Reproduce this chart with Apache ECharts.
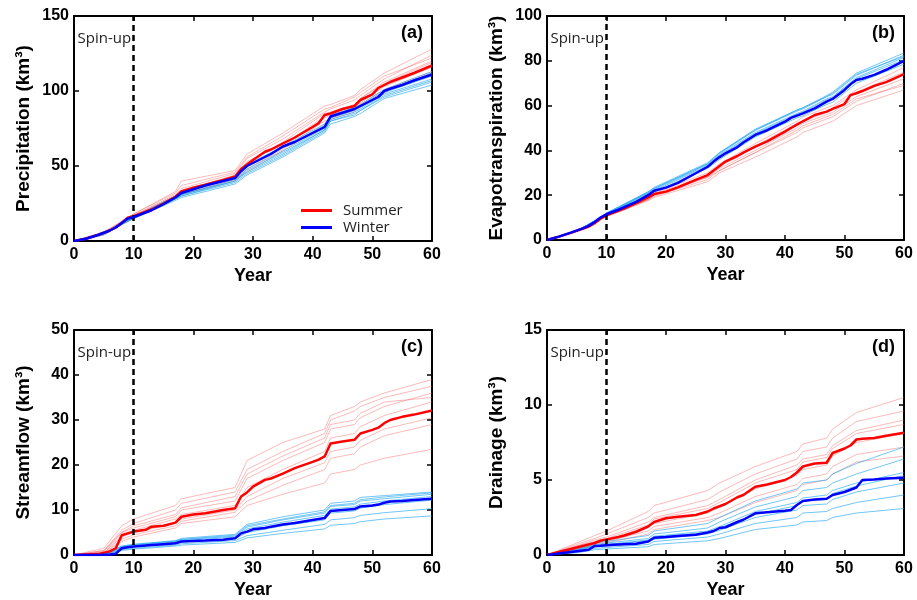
<!DOCTYPE html>
<html>
<head>
<meta charset="utf-8">
<script src="https://cdn.jsdelivr.net/npm/echarts@6/dist/echarts.min.js"></script>
<style>
  html, body { margin: 0; padding: 0; background: #fff; }
  #chart { width: 917px; height: 600px; }
</style>
</head>
<body>
<div id="chart"></div>
<script>
// ---- Data ----
const xTicks = [0, 10, 20, 30, 40, 50, 60];

// years used by the ensemble member lines
const memberYears = [0, 5, 8, 10, 17, 18, 27, 29, 35, 42, 43, 47, 48, 52, 60];
// years used by the ensemble mean lines
const meanYears = [0, 2, 4, 6, 7, 8, 9, 10, 12, 13, 15, 17, 18, 20, 22, 25, 27, 28, 29, 30, 32, 33, 35, 37, 40, 41, 42, 43, 45, 47, 48, 50, 51, 52, 53, 55, 57, 60];

// (a) Precipitation
const precipSummerMean = [0, 1.5, 4, 7, 9, 12, 15.5, 16.5, 19.5, 21, 25, 29.5, 33, 35.5, 37.5, 40.7, 43, 48, 51, 54, 59.5, 61, 65, 69, 76, 78.5, 84, 85, 88, 90, 94, 97.8, 102, 104, 106, 109, 112, 117];
const precipWinterMean = [0, 1.5, 4, 7, 9, 12, 15, 16, 19, 20.5, 24.5, 29, 32, 34.5, 37, 40, 42, 46.5, 50, 52, 56, 58, 63, 66, 72, 74, 76, 83, 85.5, 88, 90, 94, 96, 100, 101.5, 104, 107, 111];
const precipSummerMembers = [
    [0, 5, 13, 18, 33, 40, 47, 58, 72, 90, 91, 97, 101, 112, 128],
    [0, 6, 13, 17, 31, 35, 45, 55, 68, 86, 88, 94, 97, 108, 124],
    [0, 5, 12, 16, 30, 33, 44, 52, 66, 85, 86, 91, 95, 106, 120],
    [0, 5, 11, 15, 29, 32, 42, 50, 63, 82, 84, 88, 92, 103, 116],
    [0, 4, 11, 15, 28, 31, 40, 48, 61, 80, 81, 86, 90, 100, 112],
    [0, 5, 12, 17, 30, 34, 43, 53, 64, 83, 85, 90, 95, 105, 119],
    [0, 5, 12, 16, 29, 31, 41, 46, 60, 78, 82, 87, 91, 101, 113],
    [0, 6, 13, 18, 32, 37, 46, 56, 70, 88, 89, 96, 99, 110, 122]
];
const precipWinterMembers = [
    [0, 5, 12, 16, 29, 31, 41, 48, 60, 75, 82, 87, 89, 99, 110],
    [0, 5, 12, 15, 28, 30, 39, 45, 57, 73, 80, 85, 87, 97, 107],
    [0, 5, 11, 15, 27, 29, 38, 44, 56, 72, 78, 83, 85, 95, 104],
    [0, 5, 12, 16, 30, 32, 42, 50, 62, 77, 83, 88, 90, 100, 112],
    [0, 5, 12, 16, 29, 31, 40, 47, 59, 74, 81, 86, 88, 98, 108],
    [0, 4, 11, 15, 28, 30, 40, 46, 58, 74, 80, 84, 87, 96, 106],
    [0, 5, 12, 16, 30, 33, 43, 51, 63, 78, 84, 89, 91, 101, 113]
];

// (b) Evapotranspiration
const etSummerMean = [0, 1.5, 3.2, 5, 6, 7.5, 9.5, 11, 13, 14, 16.5, 19, 20.5, 21.6, 23.5, 26.8, 29, 31, 33, 35, 37.5, 39, 41.7, 44, 48.4, 50, 51.5, 53, 55.8, 57.3, 58.5, 60.7, 64.7, 65.5, 66.5, 68.8, 70.5, 74.1];
const etWinterMean = [0, 1.5, 3.3, 5.2, 6.3, 8, 10, 11.5, 13.5, 14.7, 17, 20, 22, 23.4, 25.5, 29.8, 32.7, 35, 37, 38.7, 41.5, 43.5, 46.9, 49, 52.8, 54.5, 55.5, 56.5, 58.8, 61.8, 63, 67, 69.5, 71.4, 72, 73.7, 76, 80];
const etSummerMembers = [
    [0, 4, 8, 11, 19, 21, 30, 34, 43, 53, 55, 59, 60, 67, 77],
    [0, 4, 8, 11, 18, 20, 28, 32, 40, 50, 52, 56, 57, 64, 72],
    [0, 4, 8, 11, 18, 19.5, 27, 31, 39, 48, 50, 54, 55, 62, 70],
    [0, 4, 8, 10.5, 17.5, 19, 26, 30, 37, 46, 48, 52, 53, 60, 67],
    [0, 4, 8, 11, 19, 20.5, 29, 33, 42, 52, 53, 57, 59, 66, 75],
    [0, 4, 8, 11, 18, 20, 28, 31, 39, 49, 51, 55, 56, 63, 69]
];
const etWinterMembers = [
    [0, 4, 8.5, 12, 21.5, 23.5, 34.5, 39, 49.5, 58, 59, 64.5, 66, 74.5, 83.5],
    [0, 4, 8.5, 12, 21, 23, 34, 38.5, 49, 57.5, 58.5, 64, 65, 73.5, 82.5],
    [0, 4, 8.5, 11.5, 21, 22.5, 33.5, 38, 48, 56.5, 57.5, 63, 64, 72.5, 81.5],
    [0, 4, 8.5, 11.5, 20.5, 22, 33, 37.5, 47.5, 56, 57, 62.5, 63.5, 72, 80.5],
    [0, 4, 8.5, 11.5, 20, 21.5, 32, 36, 46, 54.5, 55.5, 60.5, 61.5, 70, 78.5],
    [0, 4, 8.5, 12, 21.5, 23, 34, 39, 49, 58, 59, 64, 65.5, 74, 82]
];

// (c) Streamflow
const flowSummerMean = [0, 0.1, 0.2, 0.8, 1.5, 4.4, 4.8, 5.2, 5.6, 6.3, 6.5, 7.2, 8.5, 9, 9.3, 10, 10.4, 13, 13.9, 15.2, 16.7, 17, 18.1, 19.3, 20.7, 21.2, 21.9, 24.8, 25.2, 25.6, 27, 27.8, 28.3, 29.3, 30, 30.7, 31.2, 32.1];
const flowWinterMean = [0, 0, 0, 0.1, 0.3, 1.5, 1.7, 1.9, 2.1, 2.2, 2.4, 2.6, 3, 3.1, 3.2, 3.4, 3.7, 4.8, 5.2, 5.7, 6, 6.3, 6.8, 7.1, 7.8, 8, 8.2, 9.8, 10, 10.2, 10.8, 11, 11.2, 11.6, 11.9, 12, 12.2, 12.5];
const flowSummerMembers = [
    [0, 1.5, 6.5, 8, 11, 12.5, 15, 21, 25, 28, 31, 33, 34, 36, 39],
    [0, 1, 5.5, 7, 10, 11.5, 14, 19, 23, 27, 30, 32, 33, 35, 37.5],
    [0, 0.8, 5, 6, 8.5, 10, 12, 17, 21, 25, 28, 29, 30.5, 33, 36],
    [0, 0.5, 4.5, 5.5, 8, 9, 11, 15, 19, 23, 26, 27, 28.5, 31, 34],
    [0, 0.5, 4, 5, 7, 8, 10, 13, 17, 20.5, 23, 24, 25.5, 28, 30.5],
    [0, 0.3, 3.5, 4.5, 6.5, 7.5, 9.5, 12, 15.5, 19, 21.5, 22.5, 24, 26.5, 29],
    [0, 0.3, 3, 4, 6, 7, 8.5, 11, 13.5, 16, 18, 19, 20, 21.5, 23.5],
    [0, 1, 5, 6.5, 9, 10.5, 13, 18, 22, 26, 29, 30, 31.5, 34, 35]
];
const flowWinterMembers = [
    [0, 0.2, 2, 2.4, 3.2, 3.7, 4.6, 6.8, 8.5, 10, 11.5, 12, 12.8, 13.2, 14],
    [0, 0.1, 1.8, 2.2, 3, 3.4, 4.2, 6.2, 7.8, 9.3, 10.8, 11.2, 12, 12.5, 13.5],
    [0, 0.1, 1.6, 2, 2.8, 3.2, 4, 5.8, 7.3, 8.8, 10.2, 10.7, 11.3, 12, 13],
    [0, 0.1, 1.4, 1.8, 2.5, 2.9, 3.6, 5, 6.5, 7.8, 9.3, 9.8, 10.4, 11.2, 12.2],
    [0, 0.1, 1.2, 1.5, 2.2, 2.5, 3.2, 4.3, 5.5, 6.8, 7.8, 8.3, 8.8, 9.4, 10.3],
    [0, 0, 1, 1.3, 2, 2.2, 2.8, 3.8, 4.8, 5.8, 6.6, 7, 7.4, 8, 8.7],
    [0, 0.2, 1.9, 2.3, 3.1, 3.5, 4.4, 6.5, 8, 9.6, 11, 11.5, 12.3, 12.9, 13.8]
];

// (d) Drainage
const drainSummerMean = [0, 0.2, 0.4, 0.6, 0.7, 0.8, 0.95, 1.04, 1.2, 1.3, 1.55, 1.9, 2.2, 2.45, 2.55, 2.67, 2.9, 3.1, 3.25, 3.4, 3.85, 4, 4.55, 4.7, 5, 5.2, 5.5, 5.9, 6.1, 6.15, 6.8, 7.1, 7.3, 7.7, 7.75, 7.8, 7.95, 8.15];
const drainWinterMean = [0, 0.1, 0.2, 0.3, 0.35, 0.6, 0.62, 0.65, 0.7, 0.72, 0.75, 0.9, 1.15, 1.2, 1.27, 1.35, 1.5, 1.6, 1.8, 1.85, 2.2, 2.35, 2.78, 2.85, 2.95, 3, 3.33, 3.6, 3.7, 3.75, 4, 4.2, 4.35, 4.5, 5, 5.04, 5.1, 5.15];
const drainSummerMembers = [
    [0, 0.8, 1.3, 1.6, 2.9, 3.3, 4.3, 4.8, 5.9, 6.9, 7.4, 7.8, 8.4, 9.5, 10.5],
    [0, 0.7, 1.1, 1.4, 2.5, 2.8, 3.7, 4.2, 5.4, 6.4, 6.9, 7.2, 7.8, 8.9, 9.6],
    [0, 0.6, 1, 1.2, 2.2, 2.5, 3.3, 3.7, 5, 6, 6.4, 6.7, 7.3, 8.3, 9],
    [0, 0.5, 0.8, 1, 1.9, 2.1, 2.8, 3.2, 4.4, 5.3, 5.7, 6, 6.6, 7.5, 8.1],
    [0, 0.4, 0.7, 0.9, 1.6, 1.9, 2.5, 2.8, 3.9, 4.7, 5.1, 5.4, 5.9, 6.7, 7.2],
    [0, 0.4, 0.6, 0.8, 1.4, 1.7, 2.3, 2.5, 3.5, 4.3, 4.7, 5, 5.4, 6.2, 6.6],
    [0, 0.6, 0.9, 1.1, 2, 2.4, 3.1, 3.5, 4.8, 5.7, 6.2, 6.5, 7.1, 8.1, 8.7]
];
const drainWinterMembers = [
    [0, 0.4, 0.8, 0.9, 1.3, 1.6, 2.1, 2.5, 3.6, 4.4, 4.8, 5, 5.4, 6.1, 7.2],
    [0, 0.35, 0.7, 0.8, 1.1, 1.4, 1.8, 2.2, 3.2, 3.9, 4.3, 4.5, 4.8, 5.4, 6.4],
    [0, 0.3, 0.65, 0.7, 1, 1.25, 1.6, 1.9, 2.9, 3.5, 3.8, 4, 4.3, 4.8, 5.5],
    [0, 0.25, 0.55, 0.6, 0.85, 1.05, 1.4, 1.65, 2.5, 3, 3.3, 3.4, 3.7, 4.2, 4.8],
    [0, 0.2, 0.45, 0.5, 0.7, 0.9, 1.2, 1.4, 2.1, 2.5, 2.8, 2.9, 3.1, 3.5, 4],
    [0, 0.15, 0.35, 0.4, 0.55, 0.7, 0.95, 1.1, 1.7, 2, 2.2, 2.3, 2.5, 2.8, 3.1],
    [0, 0.3, 0.6, 0.7, 0.95, 1.2, 1.5, 1.8, 2.7, 3.3, 3.6, 3.7, 4.1, 4.6, 5.3]
];

// ---- Panel layout ----
const PANELS = [
    { tag: "(a)", name: "Precipitation (km³)", max: 150, step: 50, spinY: 134.7,
      grid: { left: 74, top: 16, width: 358, height: 225 },
      sMean: precipSummerMean, wMean: precipWinterMean, sMem: precipSummerMembers, wMem: precipWinterMembers },
    { tag: "(b)", name: "Evapotranspiration (km³)", max: 100, step: 20, spinY: 89.7,
      grid: { left: 547, top: 16, width: 357, height: 224 },
      sMean: etSummerMean, wMean: etWinterMean, sMem: etSummerMembers, wMem: etWinterMembers },
    { tag: "(c)", name: "Streamflow (km³)", max: 50, step: 10, spinY: 44.9,
      grid: { left: 74, top: 330, width: 358, height: 225 },
      sMean: flowSummerMean, wMean: flowWinterMean, sMem: flowSummerMembers, wMem: flowWinterMembers },
    { tag: "(d)", name: "Drainage (km³)", max: 15, step: 5, spinY: 13.47,
      grid: { left: 547, top: 330, width: 357, height: 225 },
      sMean: drainSummerMean, wMean: drainWinterMean, sMem: drainSummerMembers, wMem: drainWinterMembers }
];

const FONT = "'Liberation Sans', Arial, sans-serif";
const FONT_LIGHT = "'Open Sans', 'Noto Sans', sans-serif";
const RED = "#ff0000", BLUE = "#0000ff";
const RED_THIN = "rgba(245, 90, 90, 0.42)";
const BLUE_THIN = "rgba(20, 160, 240, 0.6)";

function pairs(xs, ys) { return xs.map((x, i) => [x, ys[i]]); }

const tickStyle = { show: true, inside: true, length: 5, lineStyle: { color: "#000", width: 1.5 } };
const lineStyleBox = { show: true, onZero: false, lineStyle: { color: "#000", width: 2 } };

const grids = [], xAxes = [], yAxes = [], series = [], graphics = [];

PANELS.forEach((p, k) => {
    grids.push(p.grid);

    // bottom + top x axes
    xAxes.push({
        type: "value", gridIndex: k, min: 0, max: 60, interval: 10, position: "bottom",
        name: "Year", nameLocation: "middle", nameGap: 26,
        nameTextStyle: { fontFamily: FONT, fontWeight: "bold", fontSize: 18, color: "#000" },
        axisLine: lineStyleBox, axisTick: tickStyle, splitLine: { show: false },
        axisLabel: { fontFamily: FONT, fontWeight: "bold", fontSize: 16, color: "#000", margin: 6 }
    });
    xAxes.push({
        type: "value", gridIndex: k, min: 0, max: 60, interval: 10, position: "top",
        axisLine: lineStyleBox, axisTick: tickStyle, splitLine: { show: false }, axisLabel: { show: false }
    });
    // left + right y axes
    yAxes.push({
        type: "value", gridIndex: k, min: 0, max: p.max, interval: p.step, position: "left",
        name: p.name, nameLocation: "middle", nameGap: 41, nameRotate: 90,
        nameTextStyle: { fontFamily: FONT, fontWeight: "bold", fontSize: 19, color: "#000" },
        axisLine: lineStyleBox, axisTick: tickStyle, splitLine: { show: false },
        axisLabel: { fontFamily: FONT, fontWeight: "bold", fontSize: 16, color: "#000", margin: 5 }
    });
    yAxes.push({
        type: "value", gridIndex: k, min: 0, max: p.max, interval: p.step, position: "right",
        axisLine: lineStyleBox, axisTick: tickStyle, splitLine: { show: false }, axisLabel: { show: false }
    });

    const xi = k * 2, yi = k * 2;
    const thin = (vals, color, idx) => ({
        type: "line", name: "m" + k + "-" + idx, xAxisIndex: xi, yAxisIndex: yi,
        data: pairs(memberYears, vals), showSymbol: false, silent: true, animation: false,
        lineStyle: { color: color, width: 1 }, z: 2
    });
    p.sMem.forEach((v, i) => series.push(thin(v, RED_THIN, "s" + i)));
    p.wMem.forEach((v, i) => series.push(thin(v, BLUE_THIN, "w" + i)));

    series.push({
        type: "line", name: "Summer", xAxisIndex: xi, yAxisIndex: yi,
        data: pairs(meanYears, p.sMean), showSymbol: false, animation: false,
        lineStyle: { color: RED, width: 2.5 }, itemStyle: { color: RED }, z: 4,
        markLine: {
            silent: true, symbol: "none", animation: false,
            lineStyle: { color: "#000", width: 2.5, type: [6, 4] },
            label: { show: false },
            data: [{ xAxis: 10 }]
        },
        markPoint: {
            silent: true, animation: false, symbol: "circle", symbolSize: 1,
            itemStyle: { color: "rgba(0,0,0,0)" },
            label: { show: true, position: "left", distance: 2, formatter: "Spin-up",
                     fontFamily: FONT_LIGHT, fontSize: 15, color: "#222" },
            data: [{ coord: [10, p.spinY] }]
        }
    });
    series.push({
        type: "line", name: "Winter", xAxisIndex: xi, yAxisIndex: yi,
        data: pairs(meanYears, p.wMean), showSymbol: false, animation: false,
        lineStyle: { color: BLUE, width: 2.5 }, itemStyle: { color: BLUE }, z: 5
    });

    graphics.push({
        type: "text",
        right: 917 - (p.grid.left + p.grid.width) + 9,
        top: p.grid.top + 8,
        style: { text: p.tag, font: "bold 18px " + FONT, fill: "#000" }
    });
});

const chart = echarts.init(document.getElementById("chart"));
chart.setOption({
    backgroundColor: "#fff",
    animation: false,
    grid: grids,
    xAxis: xAxes,
    yAxis: yAxes,
    series: series,
    graphic: graphics,
    legend: {
        data: ["Summer", "Winter"], orient: "vertical", left: 296, top: 197,
        icon: "rect", itemWidth: 31, itemHeight: 3, itemGap: 0, selectedMode: false,
        textStyle: { fontFamily: FONT_LIGHT, fontSize: 15, color: "#222", lineHeight: 17, padding: [0, 0, 0, 6] }
    }
});
</script>
</body>
</html>
